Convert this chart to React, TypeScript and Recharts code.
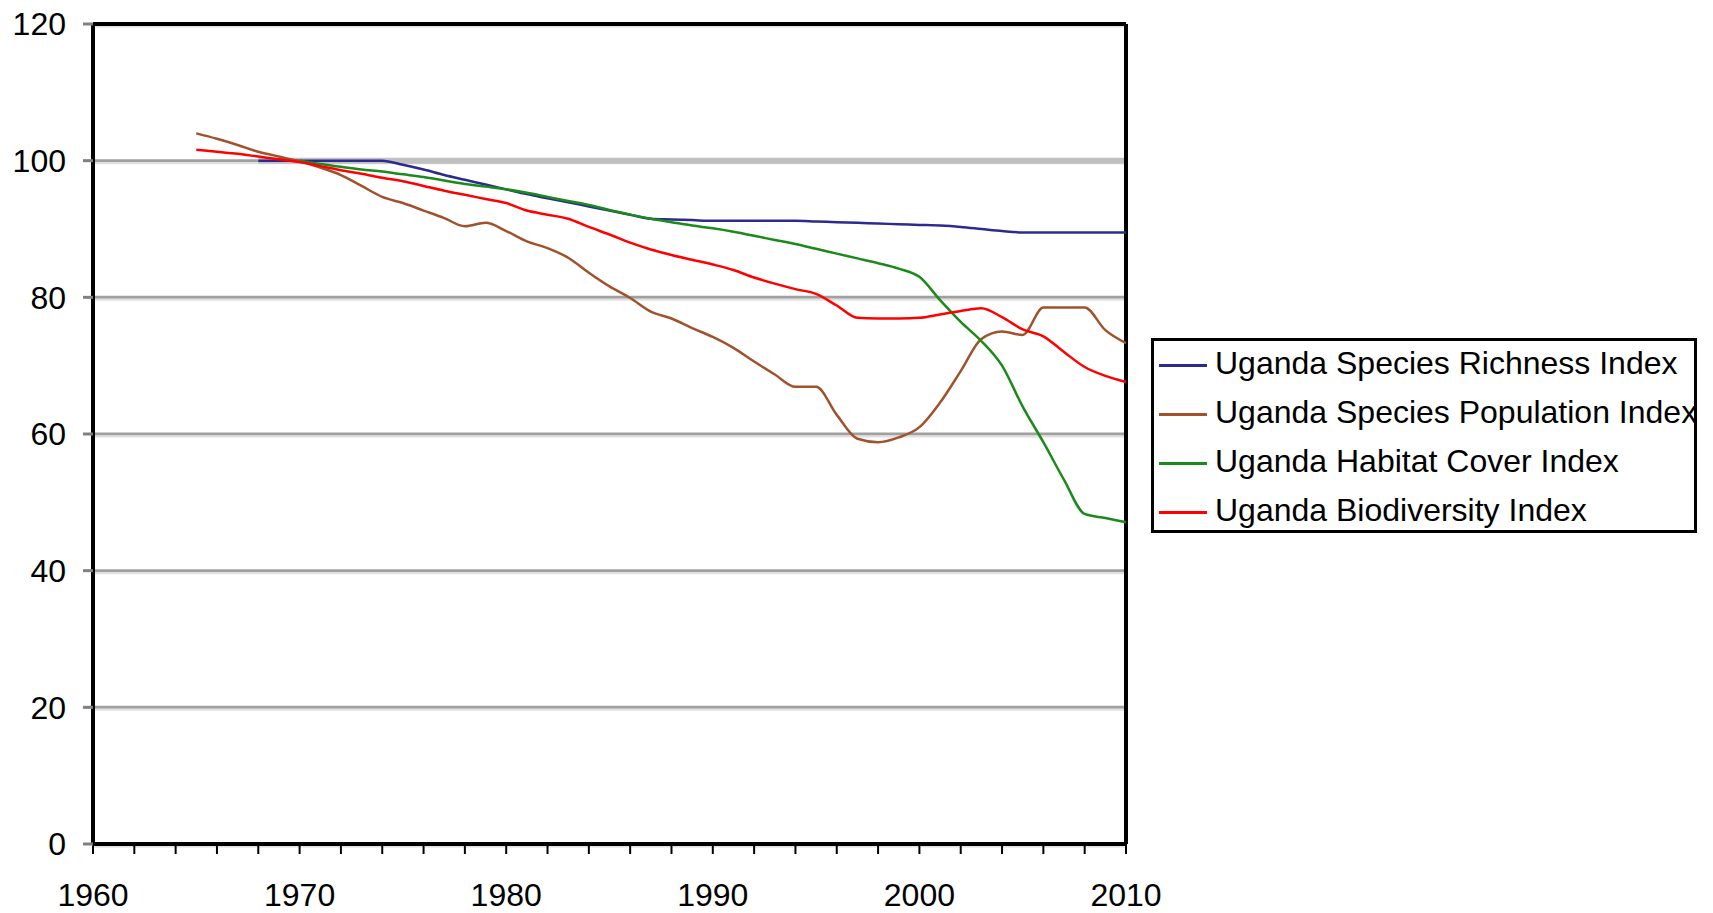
import React from "react";
import {
  LineChart,
  Line,
  XAxis,
  YAxis,
  CartesianGrid,
  Legend,
  ReferenceLine,
} from "recharts";

// --- Data ---

const YEARS = [
  1965, 1966, 1967, 1968, 1969, 1970, 1971, 1972, 1973, 1974,
  1975, 1976, 1977, 1978, 1979, 1980, 1981, 1982, 1983, 1984,
  1985, 1986, 1987, 1988, 1989, 1990, 1991, 1992, 1993, 1994,
  1995, 1996, 1997, 1998, 1999, 2000, 2001, 2002, 2003, 2004,
  2005, 2006, 2007, 2008, 2009, 2010,
];

const RICHNESS = [
  null, null, null, 100, 100, 100, 100, 100, 100, 100,
  99.4, 98.7, 97.9, 97.2, 96.5, 95.8, 95.1, 94.5, 93.9, 93.3,
  92.7, 92.1, 91.5, 91.4, 91.3, 91.2, 91.2, 91.2, 91.2, 91.2,
  91.1, 91.0, 90.9, 90.8, 90.7, 90.6, 90.5, 90.3, 90.0, 89.7,
  89.5, 89.5, 89.5, 89.5, 89.5, 89.5,
];

const POPULATION = [
  104.0, 103.2, 102.3, 101.3, 100.6, 99.9, 99.0, 97.9, 96.3, 94.7,
  93.8, 92.7, 91.6, 90.4, 90.9, 89.7, 88.2, 87.2, 85.8, 83.6,
  81.6, 79.9, 77.9, 76.9, 75.5, 74.2, 72.6, 70.6, 68.7, 66.9,
  66.9, 62.8, 59.3, 58.8, 59.5, 61.0, 64.6, 69.2, 73.9, 75.0,
  74.5, 78.5, 78.5, 78.5, 75.2, 73.3,
];

const HABITAT = [
  null, null, null, null, null, 100, 99.5, 99.1, 98.7, 98.4,
  98.0, 97.6, 97.1, 96.6, 96.2, 95.8, 95.3, 94.7, 94.1, 93.5,
  92.8, 92.1, 91.5, 91.0, 90.5, 90.1, 89.6, 89.0, 88.4, 87.8,
  87.1, 86.4, 85.7, 85.0, 84.2, 83.0, 79.6, 76.4, 73.6, 70.0,
  64.0, 58.8, 53.3, 48.3, 47.7, 47.1,
];

const BIODIVERSITY = [
  101.6, 101.3, 101.0, 100.6, 100.2, 99.8, 99.2, 98.6, 98.1, 97.5,
  97.0, 96.3, 95.6, 95.0, 94.4, 93.8, 92.7, 92.1, 91.5, 90.3,
  89.2, 88.0, 87.0, 86.2, 85.5, 84.8, 84.0, 82.9, 82.0, 81.2,
  80.5, 78.8, 77.0, 76.9, 76.9, 77.0, 77.5, 78.0, 78.4, 77.1,
  75.3, 74.3, 72.0, 69.8, 68.5, 67.6,
];

const X_TICKS = [
  1960, 1962, 1964, 1966, 1968, 1970, 1972, 1974, 1976, 1978,
  1980, 1982, 1984, 1986, 1988, 1990, 1992, 1994, 1996, 1998,
  2000, 2002, 2004, 2006, 2008, 2010,
];
const X_LABELS = [1960, 1970, 1980, 1990, 2000, 2010];
const Y_TICKS = [0, 20, 40, 60, 80, 100, 120];

// light grey band drawn behind the 100 line
const BASELINE_VALUE = 100;
const BASELINE_FROM = 1968;
const BASELINE_TO = 2010;

const SERIES = [
  { key: "richness", name: "Uganda Species Richness Index", color: "#2b2b8f" },
  { key: "population", name: "Uganda Species Population Index", color: "#a0522d" },
  { key: "habitat", name: "Uganda Habitat Cover Index", color: "#1a8a1a" },
  { key: "biodiversity", name: "Uganda Biodiversity Index", color: "#ff0000" },
];

const rows = YEARS.map((year, i) => ({
  year,
  richness: RICHNESS[i],
  population: POPULATION[i],
  habitat: HABITAT[i],
  biodiversity: BIODIVERSITY[i],
}));

const FONT = '"Liberation Sans", Arial, sans-serif';

const gridLine = (props: any) => {
  const { x1, x2, y1, key } = props;
  return (
    <g key={key}>
      <line x1={x1} x2={x2} y1={y1} y2={y1} stroke="#a0a0a0" strokeWidth={3} />
      <line x1={x1} x2={x2} y1={y1 + 2.5} y2={y1 + 2.5} stroke="#e0e0e0" strokeWidth={2} />
    </g>
  );
};

const renderLegend = () => (
  <div
    style={{
      width: 546,
      height: 195,
      border: "3px solid #000",
      boxSizing: "border-box",
      background: "#fff",
      position: "relative",
      fontFamily: FONT,
      fontSize: 32,
      color: "#000",
    }}
  >
    {SERIES.map((s, i) => (
      <div
        key={s.key}
        style={{
          position: "absolute",
          left: 5,
          top: 2 + i * 49.3,
          height: 40,
          display: "flex",
          alignItems: "center",
          whiteSpace: "nowrap",
        }}
      >
        <span
          style={{
            display: "inline-block",
            width: 48,
            height: 3,
            marginTop: 4,
            background: s.color,
            marginRight: 8,
          }}
        />
        <span>{s.name}</span>
      </div>
    ))}
  </div>
);

export default function App() {
  return (
    <div
      style={{
        position: "absolute",
        left: 0,
        top: 0,
        width: 1713,
        height: 913,
        overflow: "hidden",
        background: "#fff",
      }}
    >
      <LineChart
        width={1713}
        height={913}
        data={rows}
        margin={{ top: 24, right: 587, bottom: 9, left: 0 }}
        style={{ fontFamily: FONT }}
      >
        <CartesianGrid vertical={false} horizontal={gridLine} />
        <ReferenceLine
          segment={[
            { x: BASELINE_FROM, y: BASELINE_VALUE },
            { x: BASELINE_TO, y: BASELINE_VALUE },
          ]}
          stroke="#c0c0c0"
          strokeWidth={6}
        />
        <XAxis
          dataKey="year"
          type="number"
          domain={[1960, 2010]}
          ticks={X_TICKS}
          interval={0}
          height={60}
          tickSize={10}
          tickMargin={29}
          tickFormatter={(v: number) => (X_LABELS.includes(v) ? String(v) : "")}
          axisLine={{ stroke: "#000", strokeWidth: 4 }}
          tickLine={{ stroke: "#000", strokeWidth: 2 }}
          tick={{ fontSize: 32, fill: "#000", fontFamily: FONT }}
        />
        <YAxis
          type="number"
          domain={[0, 120]}
          ticks={Y_TICKS}
          interval={0}
          width={93}
          tickSize={10}
          tickMargin={17}
          axisLine={{ stroke: "#000", strokeWidth: 4 }}
          tickLine={{ stroke: "#808080", strokeWidth: 3 }}
          tick={{ fontSize: 32, fill: "#000", fontFamily: FONT }}
        />
        <ReferenceLine y={120} stroke="#000" strokeWidth={4} />
        <ReferenceLine x={2010} stroke="#000" strokeWidth={4} />
        {SERIES.map((s) => (
          <Line
            key={s.key}
            type="monotone"
            dataKey={s.key}
            name={s.name}
            stroke={s.color}
            strokeWidth={2.5}
            dot={false}
            activeDot={false}
            connectNulls={false}
            isAnimationActive={false}
          />
        ))}
        <Legend
          layout="vertical"
          align="center"
          verticalAlign="middle"
          content={renderLegend}
          wrapperStyle={{ left: 1151, top: 338, width: 546, height: 195 }}
        />
      </LineChart>
    </div>
  );
}
